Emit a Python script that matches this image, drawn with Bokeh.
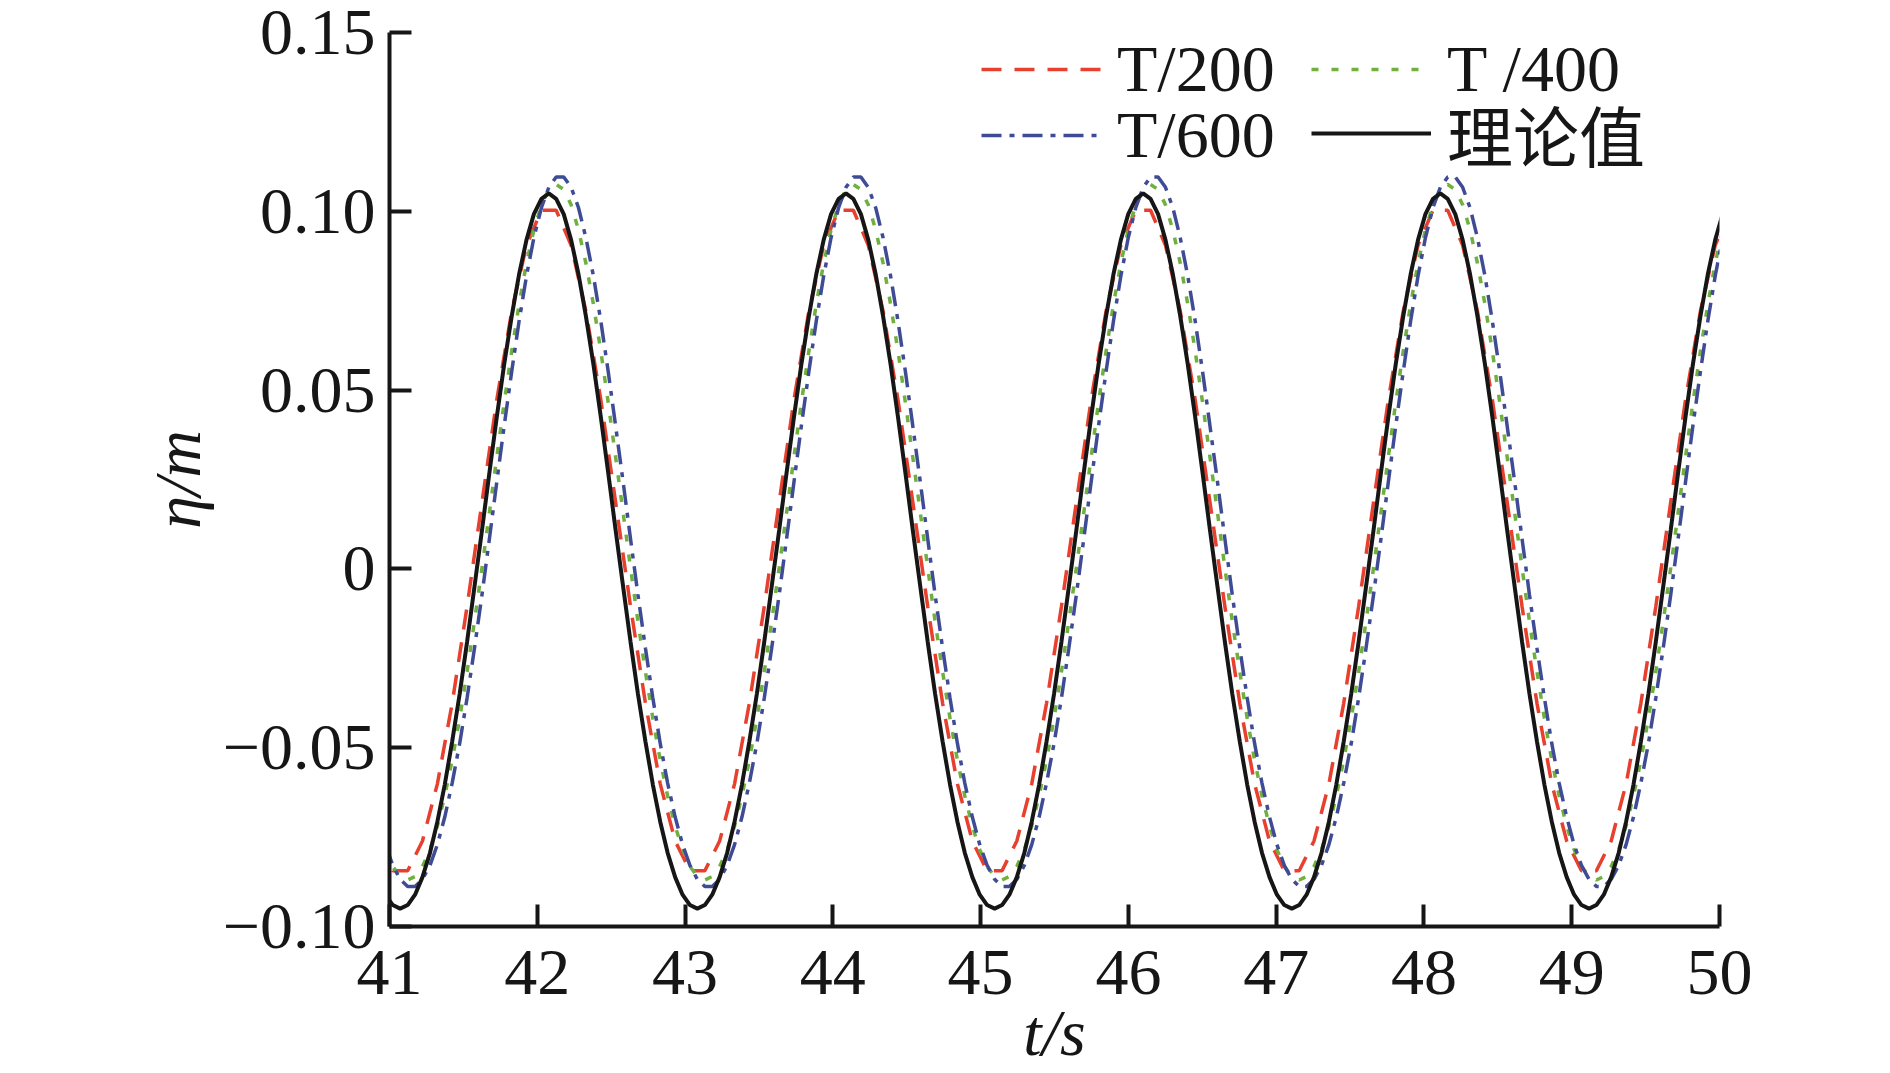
from bokeh.plotting import figure
from bokeh.models import Range1d, FixedTicker, Legend, LegendItem
from bokeh.embed import file_html
from bokeh.resources import INLINE

# ---------------- data ----------------
x_ticks = [41, 42, 43, 44, 45, 46, 47, 48, 49, 50]
y_ticks = [-0.10, -0.05, 0.0, 0.05, 0.10, 0.15]
y_tick_labels = ["\u22120.10", "\u22120.05", "0", "0.05", "0.10", "0.15"]

series_names = ["T/200", "T /400", "T/600", "理论值"]
x_title = "t/s"
y_title = "\u03b7/m"

# sampling times [s] (T/400, T/600 and theory)
t = [
    40.972, 41.022, 41.072, 41.123, 41.173, 41.223, 41.274, 41.324, 41.374, 41.424,
    41.475, 41.525, 41.575, 41.626, 41.676, 41.726, 41.776, 41.827, 41.877, 41.927,
    41.977, 42.028, 42.078, 42.128, 42.179, 42.229, 42.279, 42.329, 42.380, 42.430,
    42.480, 42.530, 42.581, 42.631, 42.681, 42.732, 42.782, 42.832, 42.882, 42.933,
    42.983, 43.033, 43.083, 43.134, 43.184, 43.234, 43.285, 43.335, 43.385, 43.435,
    43.486, 43.536, 43.586, 43.637, 43.687, 43.737, 43.787, 43.838, 43.888, 43.938,
    43.988, 44.039, 44.089, 44.139, 44.190, 44.240, 44.290, 44.340, 44.391, 44.441,
    44.491, 44.541, 44.592, 44.642, 44.692, 44.743, 44.793, 44.843, 44.893, 44.944,
    44.994, 45.044, 45.095, 45.145, 45.195, 45.245, 45.296, 45.346, 45.396, 45.446,
    45.497, 45.547, 45.597, 45.648, 45.698, 45.748, 45.798, 45.849, 45.899, 45.949,
    45.999, 46.050, 46.100, 46.150, 46.201, 46.251, 46.301, 46.351, 46.402, 46.452,
    46.502, 46.552, 46.603, 46.653, 46.703, 46.754, 46.804, 46.854, 46.904, 46.955,
    47.005, 47.055, 47.106, 47.156, 47.206, 47.256, 47.307, 47.357, 47.407, 47.457,
    47.508, 47.558, 47.608, 47.659, 47.709, 47.759, 47.809, 47.860, 47.910, 47.960,
    48.010, 48.061, 48.111, 48.161, 48.212, 48.262, 48.312, 48.362, 48.413, 48.463,
    48.513, 48.563, 48.614, 48.664, 48.714, 48.765, 48.815, 48.865, 48.915, 48.966,
    49.016, 49.066, 49.117, 49.167, 49.217, 49.267, 49.318, 49.368, 49.418, 49.468,
    49.519, 49.569, 49.619, 49.670, 49.720, 49.770, 49.820, 49.871, 49.921, 49.971,
    50.021,
]

# theoretical surface elevation [m]
eta_theory = [
    -0.0911, -0.0940, -0.0950, -0.0940, -0.0911, -0.0862, -0.0794, -0.0707, -0.0603, -0.0483,
    -0.0349, -0.0204, -0.0050, 0.0109, 0.0269, 0.0425, 0.0572, 0.0707, 0.0824, 0.0920,
    0.0992, 0.1035, 0.1050, 0.1035, 0.0992, 0.0920, 0.0824, 0.0707, 0.0572, 0.0425,
    0.0269, 0.0109, -0.0050, -0.0204, -0.0349, -0.0483, -0.0603, -0.0707, -0.0794, -0.0862,
    -0.0911, -0.0940, -0.0950, -0.0940, -0.0911, -0.0862, -0.0794, -0.0707, -0.0603, -0.0483,
    -0.0349, -0.0204, -0.0050, 0.0109, 0.0269, 0.0425, 0.0572, 0.0707, 0.0824, 0.0920,
    0.0992, 0.1035, 0.1050, 0.1035, 0.0992, 0.0920, 0.0824, 0.0707, 0.0572, 0.0425,
    0.0269, 0.0109, -0.0050, -0.0204, -0.0349, -0.0483, -0.0603, -0.0707, -0.0794, -0.0862,
    -0.0911, -0.0940, -0.0950, -0.0940, -0.0911, -0.0862, -0.0794, -0.0707, -0.0603, -0.0483,
    -0.0349, -0.0204, -0.0050, 0.0109, 0.0269, 0.0425, 0.0572, 0.0707, 0.0824, 0.0920,
    0.0992, 0.1035, 0.1050, 0.1035, 0.0992, 0.0920, 0.0824, 0.0707, 0.0572, 0.0425,
    0.0269, 0.0109, -0.0050, -0.0204, -0.0349, -0.0483, -0.0603, -0.0707, -0.0794, -0.0862,
    -0.0911, -0.0940, -0.0950, -0.0940, -0.0911, -0.0862, -0.0794, -0.0707, -0.0603, -0.0483,
    -0.0349, -0.0204, -0.0050, 0.0109, 0.0269, 0.0425, 0.0572, 0.0707, 0.0824, 0.0920,
    0.0992, 0.1035, 0.1050, 0.1035, 0.0992, 0.0920, 0.0824, 0.0707, 0.0572, 0.0425,
    0.0269, 0.0109, -0.0050, -0.0204, -0.0349, -0.0483, -0.0603, -0.0707, -0.0794, -0.0862,
    -0.0911, -0.0940, -0.0950, -0.0940, -0.0911, -0.0862, -0.0794, -0.0707, -0.0603, -0.0483,
    -0.0349, -0.0204, -0.0050, 0.0109, 0.0269, 0.0425, 0.0572, 0.0707, 0.0824, 0.0920,
    0.0992,
]

# numerical result, time step T/400
eta_400 = [
    -0.0785, -0.0832, -0.0860, -0.0870, -0.0860, -0.0832, -0.0785, -0.0719, -0.0635, -0.0535,
    -0.0418, -0.0288, -0.0147, 0.0003, 0.0157, 0.0313, 0.0465, 0.0609, 0.0740, 0.0855,
    0.0948, 0.1018, 0.1061, 0.1075, 0.1061, 0.1018, 0.0948, 0.0855, 0.0740, 0.0609,
    0.0465, 0.0313, 0.0157, 0.0003, -0.0147, -0.0288, -0.0418, -0.0535, -0.0635, -0.0719,
    -0.0785, -0.0832, -0.0860, -0.0870, -0.0860, -0.0832, -0.0785, -0.0719, -0.0635, -0.0535,
    -0.0418, -0.0288, -0.0147, 0.0003, 0.0157, 0.0313, 0.0465, 0.0609, 0.0740, 0.0855,
    0.0948, 0.1018, 0.1061, 0.1075, 0.1061, 0.1018, 0.0948, 0.0855, 0.0740, 0.0609,
    0.0465, 0.0313, 0.0157, 0.0003, -0.0147, -0.0288, -0.0418, -0.0535, -0.0635, -0.0719,
    -0.0785, -0.0832, -0.0860, -0.0870, -0.0860, -0.0832, -0.0785, -0.0719, -0.0635, -0.0535,
    -0.0418, -0.0288, -0.0147, 0.0003, 0.0157, 0.0313, 0.0465, 0.0609, 0.0740, 0.0855,
    0.0948, 0.1018, 0.1061, 0.1075, 0.1061, 0.1018, 0.0948, 0.0855, 0.0740, 0.0609,
    0.0465, 0.0313, 0.0157, 0.0003, -0.0147, -0.0288, -0.0418, -0.0535, -0.0635, -0.0719,
    -0.0785, -0.0832, -0.0860, -0.0870, -0.0860, -0.0832, -0.0785, -0.0719, -0.0635, -0.0535,
    -0.0418, -0.0288, -0.0147, 0.0003, 0.0157, 0.0313, 0.0465, 0.0609, 0.0740, 0.0855,
    0.0948, 0.1018, 0.1061, 0.1075, 0.1061, 0.1018, 0.0948, 0.0855, 0.0740, 0.0609,
    0.0465, 0.0313, 0.0157, 0.0003, -0.0147, -0.0288, -0.0418, -0.0535, -0.0635, -0.0719,
    -0.0785, -0.0832, -0.0860, -0.0870, -0.0860, -0.0832, -0.0785, -0.0719, -0.0635, -0.0535,
    -0.0418, -0.0288, -0.0147, 0.0003, 0.0157, 0.0313, 0.0465, 0.0609, 0.0740, 0.0855,
    0.0948,
]

# numerical result, time step T/600
eta_600 = [
    -0.0771, -0.0829, -0.0868, -0.0888, -0.0888, -0.0868, -0.0829, -0.0771, -0.0694, -0.0599,
    -0.0488, -0.0361, -0.0222, -0.0072, 0.0084, 0.0243, 0.0400, 0.0552, 0.0693, 0.0819,
    0.0926, 0.1010, 0.1067, 0.1096, 0.1096, 0.1067, 0.1010, 0.0926, 0.0819, 0.0693,
    0.0552, 0.0400, 0.0243, 0.0084, -0.0072, -0.0222, -0.0361, -0.0488, -0.0599, -0.0694,
    -0.0771, -0.0829, -0.0868, -0.0888, -0.0888, -0.0868, -0.0829, -0.0771, -0.0694, -0.0599,
    -0.0488, -0.0361, -0.0222, -0.0072, 0.0084, 0.0243, 0.0400, 0.0552, 0.0693, 0.0819,
    0.0926, 0.1010, 0.1067, 0.1096, 0.1096, 0.1067, 0.1010, 0.0926, 0.0819, 0.0693,
    0.0552, 0.0400, 0.0243, 0.0084, -0.0072, -0.0222, -0.0361, -0.0488, -0.0599, -0.0694,
    -0.0771, -0.0829, -0.0868, -0.0888, -0.0888, -0.0868, -0.0829, -0.0771, -0.0694, -0.0599,
    -0.0488, -0.0361, -0.0222, -0.0072, 0.0084, 0.0243, 0.0400, 0.0552, 0.0693, 0.0819,
    0.0926, 0.1010, 0.1067, 0.1096, 0.1096, 0.1067, 0.1010, 0.0926, 0.0819, 0.0693,
    0.0552, 0.0400, 0.0243, 0.0084, -0.0072, -0.0222, -0.0361, -0.0488, -0.0599, -0.0694,
    -0.0771, -0.0829, -0.0868, -0.0888, -0.0888, -0.0868, -0.0829, -0.0771, -0.0694, -0.0599,
    -0.0488, -0.0361, -0.0222, -0.0072, 0.0084, 0.0243, 0.0400, 0.0552, 0.0693, 0.0819,
    0.0926, 0.1010, 0.1067, 0.1096, 0.1096, 0.1067, 0.1010, 0.0926, 0.0819, 0.0693,
    0.0552, 0.0400, 0.0243, 0.0084, -0.0072, -0.0222, -0.0361, -0.0488, -0.0599, -0.0694,
    -0.0771, -0.0829, -0.0868, -0.0888, -0.0888, -0.0868, -0.0829, -0.0771, -0.0694, -0.0599,
    -0.0488, -0.0361, -0.0222, -0.0072, 0.0084, 0.0243, 0.0400, 0.0552, 0.0693, 0.0819,
    0.0926,
]

# numerical result, time step T/200 (coarser output)
t_200 = [
    40.922,
    41.022, 41.123, 41.223, 41.324, 41.424, 41.525, 41.626, 41.726, 41.827, 41.927,
    42.028, 42.128, 42.229, 42.329, 42.430, 42.530, 42.631, 42.732, 42.832, 42.933,
    43.033, 43.134, 43.234, 43.335, 43.435, 43.536, 43.637, 43.737, 43.838, 43.938,
    44.039, 44.139, 44.240, 44.340, 44.441, 44.541, 44.642, 44.743, 44.843, 44.944,
    45.044, 45.145, 45.245, 45.346, 45.446, 45.547, 45.648, 45.748, 45.849, 45.949,
    46.050, 46.150, 46.251, 46.351, 46.452, 46.552, 46.653, 46.754, 46.854, 46.955,
    47.055, 47.156, 47.256, 47.357, 47.457, 47.558, 47.659, 47.759, 47.860, 47.960,
    48.061, 48.161, 48.262, 48.362, 48.463, 48.563, 48.664, 48.765, 48.865, 48.966,
    49.066, 49.167, 49.267, 49.368, 49.468, 49.569, 49.670, 49.770, 49.871, 49.971,
    50.072,
]
eta_200 = [
    -0.0761,
    -0.0844, -0.0844, -0.0761, -0.0601, -0.0376, -0.0105, 0.0187, 0.0473, 0.0721, 0.0905,
    0.1003, 0.1003, 0.0905, 0.0721, 0.0473, 0.0187, -0.0105, -0.0376, -0.0601, -0.0761,
    -0.0844, -0.0844, -0.0761, -0.0601, -0.0376, -0.0105, 0.0187, 0.0473, 0.0721, 0.0905,
    0.1003, 0.1003, 0.0905, 0.0721, 0.0473, 0.0187, -0.0105, -0.0376, -0.0601, -0.0761,
    -0.0844, -0.0844, -0.0761, -0.0601, -0.0376, -0.0105, 0.0187, 0.0473, 0.0721, 0.0905,
    0.1003, 0.1003, 0.0905, 0.0721, 0.0473, 0.0187, -0.0105, -0.0376, -0.0601, -0.0761,
    -0.0844, -0.0844, -0.0761, -0.0601, -0.0376, -0.0105, 0.0187, 0.0473, 0.0721, 0.0905,
    0.1003, 0.1003, 0.0905, 0.0721, 0.0473, 0.0187, -0.0105, -0.0376, -0.0601, -0.0761,
    -0.0844, -0.0844, -0.0761, -0.0601, -0.0376, -0.0105, 0.0187, 0.0473, 0.0721, 0.0905,
    0.1003,
]

# ---------------- styling ----------------
RED = "#e8402f"
GREEN = "#6fb03f"
BLUE = "#3f4c95"
BLACK = "#161616"
SERIF = "Liberation Serif"
FS = "66px"

p = figure(
    frame_width=1330, frame_height=894,
    output_backend="svg", toolbar_location=None,
    x_range=Range1d(41, 50), y_range=Range1d(-0.10, 0.15),
    min_border_left=389, min_border_right=155,
    min_border_top=32, min_border_bottom=0,
)
p.outline_line_color = None
p.grid.visible = False
p.background_fill_color = "white"
p.border_fill_color = "white"

for ax in (p.xaxis[0], p.yaxis[0]):
    ax.axis_line_width = 4
    ax.axis_line_color = BLACK
    ax.major_tick_line_width = 4
    ax.major_tick_line_color = BLACK
    ax.major_tick_in = 22
    ax.major_tick_out = 0
    ax.minor_tick_line_color = None
    ax.major_label_text_font = SERIF
    ax.major_label_text_font_size = FS
    ax.major_label_text_color = BLACK
    ax.axis_label_text_font = SERIF
    ax.axis_label_text_font_size = FS
    ax.axis_label_text_font_style = "italic"
    ax.axis_label_text_color = BLACK

p.xaxis.ticker = FixedTicker(ticks=x_ticks)
p.yaxis.ticker = FixedTicker(ticks=y_ticks)
p.yaxis.major_label_overrides = dict(zip(y_ticks, y_tick_labels))
p.xaxis.major_label_standoff = 24
p.yaxis.major_label_standoff = 14
p.xaxis.axis_label = x_title
p.yaxis.axis_label = y_title
p.xaxis.axis_label_standoff = -1
p.yaxis.axis_label_standoff = 6

r200 = p.line(t_200, eta_200, line_color=RED, line_width=3.5, line_dash="20 13")
r400 = p.line(t, eta_400, line_color=GREEN, line_width=3.5, line_dash="7 13")
r600 = p.line(t, eta_600, line_color=BLUE, line_width=3.5, line_dash="20 8 5 8")
rth = p.line(t, eta_theory, line_color=BLACK, line_width=4)

# legend: one single-item legend per entry (2 x 2 grid, row-major)
leg_common = dict(
    glyph_width=120, glyph_height=30, label_standoff=16, spacing=0,
    padding=0, margin=0, border_line_color=None, background_fill_alpha=0,
    label_text_font_size=FS, label_text_color=BLACK,
)
legend_specs = [
    (series_names[0], r200, (592, 819), SERIF),
    (series_names[1], r400, (922, 819), SERIF),
    (series_names[2], r600, (592, 753), SERIF),
    (series_names[3], rth, (922, 745), "Liberation Serif, Noto Sans CJK SC"),
]
for name, rend, loc, font in legend_specs:
    p.add_layout(Legend(items=[LegendItem(label=name, renderers=[rend])],
                        location=loc, label_text_font=font, **leg_common))

open("out.html", "w").write(file_html(p, INLINE))
